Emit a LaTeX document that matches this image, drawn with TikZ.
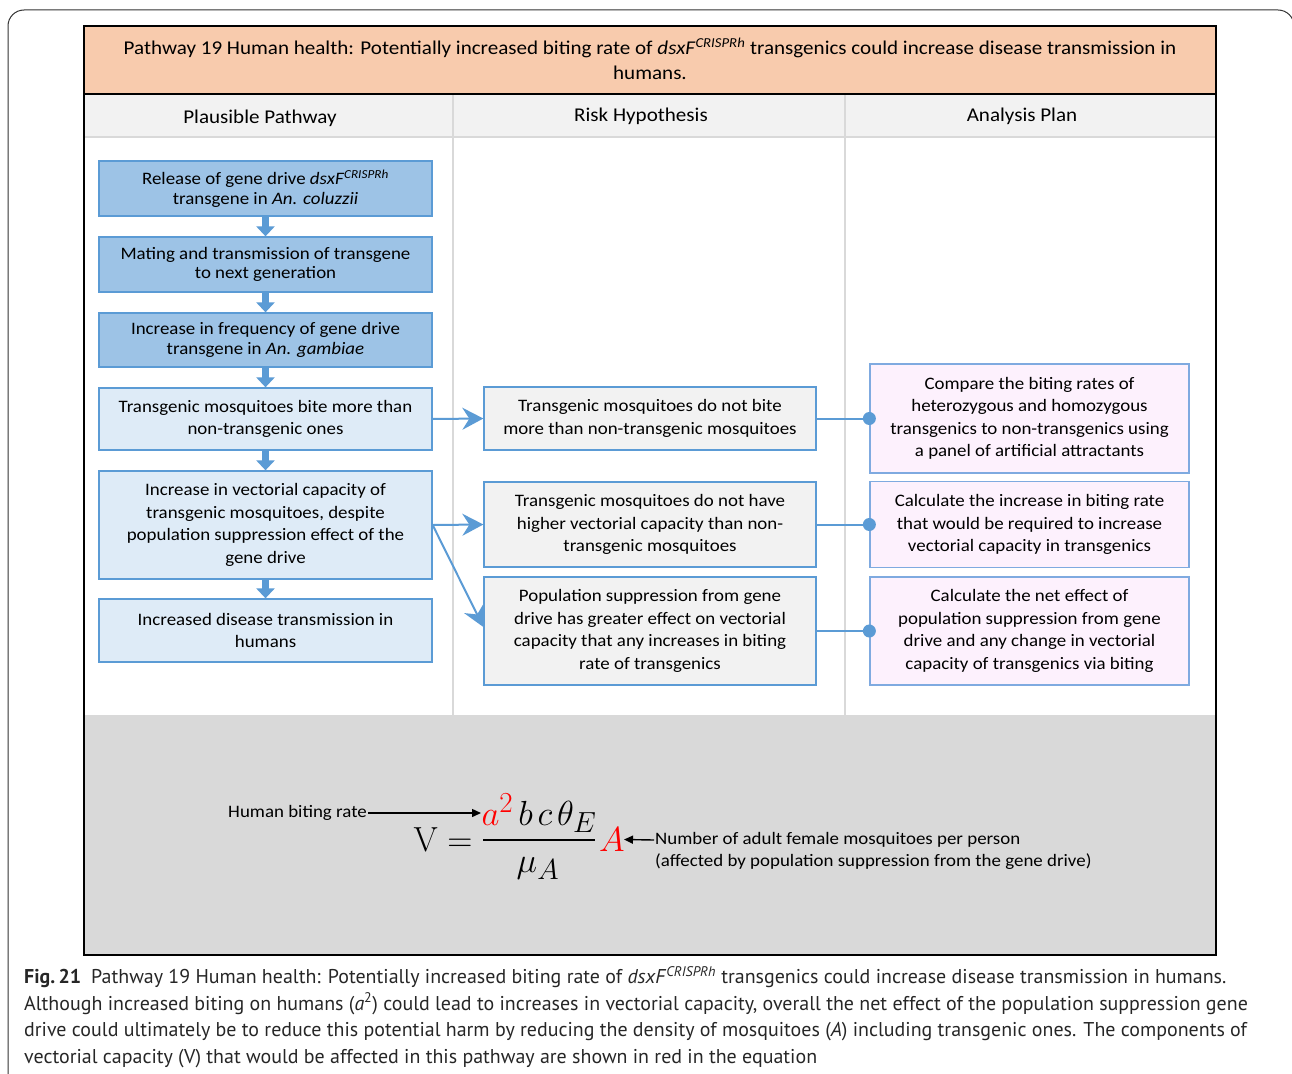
\documentclass[tikz,border=0pt]{standalone}
\usepackage{graphicx}
\usepackage[no-math]{fontspec}
\setmainfont{Carlito}[FakeStretch=1.08]
\newfontfamily\capfont{PT Sans}
\usetikzlibrary{arrows.meta}

\definecolor{hdrorange}{HTML}{F8CBAD}
\definecolor{hdrgray}{HTML}{F2F2F2}
\definecolor{eqgray}{HTML}{D9D9D9}
\definecolor{sepgray}{HTML}{D9D9D9}
\definecolor{edgeblue}{HTML}{5B9BD5}
\definecolor{darkblue}{HTML}{9DC3E6}
\definecolor{lightblue}{HTML}{DEEBF7}
\definecolor{midfill}{HTML}{F2F2F2}
\definecolor{pinkfill}{HTML}{FDF1FD}
\definecolor{pinkedge}{HTML}{7FAAE0}
\definecolor{eqred}{HTML}{FF0000}

\newcommand{\hdrfont}{\fontsize{19.5}{25}\selectfont}
\newcommand{\tightfont}{\fontsize{17.5}{19.5}\selectfont}
\newcommand{\boxfont}{\fontsize{17.5}{22.5}\selectfont}
\newcommand{\labfont}{\fontsize{17.5}{22}\selectfont}
\newcommand{\eqfont}{\fontsize{24.88}{30}\selectfont}
\newcommand{\eqbig}[1]{\scalebox{1.4}{#1}}
\newcommand{\capsize}{\capfont\fontsize{19.95}{26.5}\selectfont}

\tikzset{
  pathbox/.style={draw=edgeblue, line width=1.3pt, minimum width=333pt,
    align=center, inner sep=2pt},
  darkbox/.style={pathbox, fill=darkblue, font=\tightfont},
  lightbox/.style={pathbox, fill=lightblue, font=\boxfont},
  riskbox/.style={pathbox, fill=midfill, minimum width=332pt, font=\boxfont},
  planbox/.style={draw=pinkedge, line width=1.3pt, fill=pinkfill,
    minimum width=319pt, align=center, inner sep=2pt, font=\boxfont},
  blockarrow/.style={draw=edgeblue, line width=7pt,
    -{Triangle[length=10pt,width=18pt]}},
  conn/.style={draw=edgeblue, line width=2pt},
  connarrow/.style={conn, -{Stealth[length=21pt,width=22pt,inset=7pt]}},
  eqarrow/.style={draw=black, line width=1.4pt,
    -{Triangle[length=9pt,width=8pt]}},
  eqpart/.style={font=\eqfont, anchor=base, inner sep=0pt},
  colhead/.style={font=\hdrfont, inner sep=1pt},
}

\begin{document}
\begin{tikzpicture}[x=1pt,y=-1pt]
\useasboundingbox (0,0) rectangle (1292,1073);

% outer page frame with rounded corners
\begin{scope}
  \clip (0,0) rectangle (1292,1073);
  \draw[line width=1pt, black!80, rounded corners=16pt]
    (8,1130) -- (8,10) -- (1294,10) -- (1294,1130);
\end{scope}

% table background bands
\fill[hdrorange] (84,26) rectangle (1216,94);
\fill[hdrgray] (84,94) rectangle (1216,137);
\fill[white] (84,137) rectangle (1216,715);
\fill[eqgray] (84,715) rectangle (1216,955);
\draw[sepgray, line width=2.5pt] (453,95) -- (453,715);
\draw[sepgray, line width=2.5pt] (845,95) -- (845,715);
\draw[sepgray, line width=1.5pt] (84,137) -- (1216,137);
\draw[black, line width=2.8pt] (84,94) -- (1216,94);
\draw[black, line width=2pt] (84,26) rectangle (1216,955);

% title and column headings
\node[font=\hdrfont, align=center] (title) at (650,59)
  {Pathway 19 Human health: Potentially increased biting rate of \textit{dsxF}\textsuperscript{\textit{CRISPRh}} transgenics could increase disease transmission in\\humans.};
\node[colhead] (h1) at (260,118) {Plausible Pathway};
\node[colhead] (h2) at (641,116) {Risk Hypothesis};
\node[colhead] (h3) at (1022,116) {Analysis Plan};

% plausible pathway
\node[darkbox, minimum height=55pt] (p1) at (265.5,188.5)
  {Release of gene drive \textit{dsxF}\textsuperscript{\textit{CRISPRh}}\\transgene in \textit{An. coluzzii}};
\node[darkbox, minimum height=55pt] (p2) at (265.5,264.5)
  {Mating and transmission of transgene\\to next generation};
\node[darkbox, minimum height=54pt] (p3) at (265.5,340)
  {Increase in frequency of gene drive\\transgene in \textit{An. gambiae}};
\node[lightbox, minimum height=62pt] (p4) at (265.5,419)
  {Transgenic mosquitoes bite more than\\non-transgenic ones};
\node[lightbox, minimum height=108pt] (p5) at (265.5,525)
  {Increase in vectorial capacity of\\transgenic mosquitoes, despite\\population suppression effect of the\\gene drive};
\node[lightbox, minimum height=63pt] (p6) at (265.5,630.5)
  {Increased disease transmission in\\humans};

\draw[blockarrow] (p1.south) -- (p2.north);
\draw[blockarrow] (p2.south) -- (p3.north);
\draw[blockarrow] (p3.south) -- (p4.north);
\draw[blockarrow] (p4.south) -- (p5.north);
\draw[blockarrow] (p5.south) -- (p6.north);

% risk hypotheses
\node[riskbox, minimum height=63pt] (r1) at (650,418.5)
  {Transgenic mosquitoes do not bite\\more than non-transgenic mosquitoes};
\node[riskbox, minimum height=85pt] (r2) at (650,524.5)
  {Transgenic mosquitoes do not have\\higher vectorial capacity than non-\\transgenic mosquitoes};
\node[riskbox, minimum height=108pt] (r3) at (650,631)
  {Population suppression from gene\\drive has greater effect on vectorial\\capacity that any increases in biting\\rate of transgenics};

% analysis plans
\node[planbox, minimum height=109pt] (a1) at (1029.5,418.5)
  {Compare the biting rates of\\heterozygous and homozygous\\transgenics to non-transgenics using\\a panel of artificial attractants};
\node[planbox, minimum height=86pt] (a2) at (1029.5,524.5)
  {Calculate the increase in biting rate\\that would be required to increase\\vectorial capacity in transgenics};
\node[planbox, minimum height=108pt] (a3) at (1029.5,631)
  {Calculate the net effect of\\population suppression from gene\\drive and any change in vectorial\\capacity of transgenics via biting};

% links between columns
\draw[connarrow] (p4.east) -- (r1.west);
\draw[connarrow] (p5.east) -- (r2.west);
\draw[connarrow] (p5.east) -- ([yshift=4pt]r3.west);
\draw[conn] (r1.east) -- (a1.west);
\draw[conn] (r2.east) -- (a2.west);
\draw[conn] (r3.east) -- (a3.west);
\fill[edgeblue] (a1.west) circle (6.5pt);
\fill[edgeblue] (a2.west) circle (6.5pt);
\fill[edgeblue] (a3.west) circle (6.5pt);

% vectorial capacity equation
\node[eqpart] (eqV) at (443,851) {\eqbig{$\mathrm{V}=$}};
\node[eqpart] (num) at (539,825)
  {\eqbig{$\textcolor{eqred}{a^{2}}\mkern2.5mu b\mkern2.5mu c\mkern2.5mu\theta_{E}$}};
\node[eqpart] (den) at (538,872) {\eqbig{$\mu_{A}$}};
\draw[black, line width=2.6pt] (483,840) -- (595,840);
\node[eqpart, text=eqred] (eqA) at (612,851) {\eqbig{$A$}};

\node[font=\labfont, anchor=east, inner sep=1pt] (hbr) at (368,813) {Human biting rate};
\coordinate (hbrtip) at (481,813);
\draw[eqarrow] (hbr.east) -- (hbrtip);
\node[font=\labfont, anchor=west, inner sep=1pt] (nA1) at (654,840)
  {Number of adult female mosquitoes per person};
\node[font=\labfont, anchor=west, inner sep=1pt] (nA2) at (654,862)
  {(affected by population suppression from the gene drive)};
\coordinate (Atip) at (624,839.5);
\draw[eqarrow] (nA1.west) -- (Atip);

% figure caption
\node[font=\capsize, anchor=north west, align=left, inner sep=0pt, text=black!85] (cap) at (24,966)
  {\textbf{Fig.\,21}\enspace Pathway 19 Human health: Potentially increased biting rate of \textit{dsxF}\textsuperscript{\textit{CRISPRh}} transgenics could increase disease transmission in humans.\\
  Although increased biting on humans (\textit{a}\textsuperscript{2}) could lead to increases in vectorial capacity, overall the net effect of the population suppression gene\\
  drive could ultimately be to reduce this potential harm by reducing the density of mosquitoes (\textit{A}) including transgenic ones. The components of\\
  vectorial capacity (V) that would be affected in this pathway are shown in red in the equation};
\end{tikzpicture}
\end{document}
